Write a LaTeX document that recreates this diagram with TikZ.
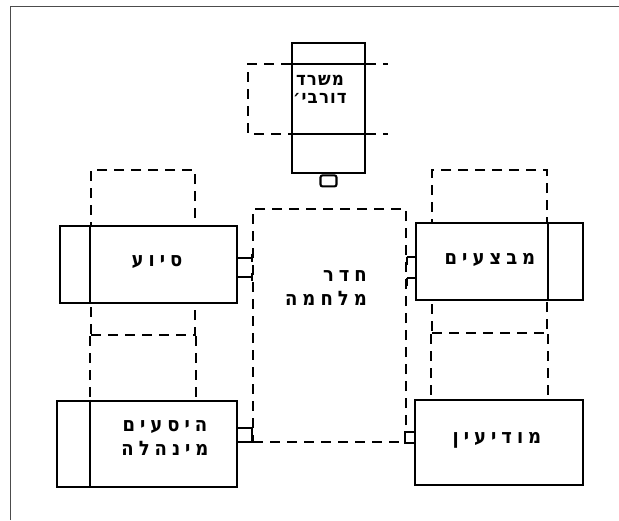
\documentclass[tikz,border=0pt]{standalone}
\usepackage{fontspec}
\usetikzlibrary{calc,backgrounds}
\TeXXeTstate=1
\newfontfamily\hebfont[Script=Hebrew,LetterSpace=25,FakeStretch=0.9]{DejaVu Sans}
\newfontfamily\hebfonttight[Script=Hebrew,LetterSpace=6,FakeStretch=0.9]{DejaVu Sans}
\newcommand\rl[1]{\beginR #1\endR}
\begin{document}
\begin{tikzpicture}[x=1pt,y=-1pt,
  boxst/.style={draw, line width=2.7pt, fill=white, inner sep=0pt},
  dsh/.style={draw, line width=2.1pt, dash pattern=on 10pt off 7pt},
  lbl/.style={font=\hebfont\bfseries\fontsize{20}{24}\selectfont, align=center, inner sep=0pt},
  lbltight/.style={font=\hebfonttight\bfseries\fontsize{18.5}{18}\selectfont, align=center, inner sep=0pt},
  tabst/.style={line width=2.1pt},
  sqst/.style={draw, line width=2.1pt, inner sep=0pt, fill=white}]
\useasboundingbox (0,0) rectangle (619,520);
% page frame
\draw[line width=1pt, black!70] (10,520) -- (10,6) -- (619,6);

% solid boxes
\node[boxst, minimum width=73pt, minimum height=130pt] (office) at (328.5,108) {};
\node[boxst, minimum width=177pt, minimum height=77pt] (sup) at (148.5,264.5) {};
\node[boxst, minimum width=180pt, minimum height=86pt] (adm) at (147,444) {};
\node[boxst, minimum width=167pt, minimum height=77pt] (ops) at (499.5,261.5) {};
\node[boxst, minimum width=168pt, minimum height=85pt] (intel) at (499,442.5) {};

% dashed frames behind the boxes
\begin{pgfonlayer}{background}
  \node[dsh, minimum width=104pt, minimum height=165pt] (supfr) at (143,252.5) {};
  \node[dsh, minimum width=115pt, minimum height=163pt] (opsfr) at (489.5,251.5) {};
  \draw[dsh] (supfr.south west) -- (supfr.south west |- adm.north);
  \draw[dsh] (supfr.south east) -- (supfr.south east |- adm.north);
  \draw[dsh] (opsfr.south west) -- (opsfr.south west |- intel.north);
  \draw[dsh] (opsfr.south east) -- (opsfr.south east |- intel.north);
  % office dashed frame (open on the right)
  \coordinate (ofA) at (248,64);
  \coordinate (ofB) at (248,134);
  \coordinate (ofC) at (388,64);
  \coordinate (ofD) at (388,134);
  \draw[dsh] (ofA -| office.west) -- (ofA) -- (ofB) -- (ofB -| office.west);
  \draw[dsh] (ofC -| office.east) -- (ofC);
  \draw[dsh] (ofD -| office.east) -- (ofD);
\end{pgfonlayer}

% inner solid lines
\draw[line width=2.4pt] (ofA -| office.west) -- (ofA -| office.east);
\draw[line width=2.4pt] (ofB -| office.west) -- (ofB -| office.east);
\draw[line width=2.7pt] (supfr.south west |- sup.north) -- (supfr.south west |- sup.south);
\draw[line width=2.7pt] (supfr.south west |- adm.north) -- (supfr.south west |- adm.south);
\draw[line width=2.7pt] (opsfr.south east |- ops.north) -- (opsfr.south east |- ops.south);

% office tab
\node[draw, line width=2.1pt, rounded corners=2pt, minimum width=16pt, minimum height=11pt, inner sep=0pt, anchor=north] (oftab) at (office.south) {};

% war room
\node[dsh, minimum width=153pt, minimum height=233pt] (war) at (329.5,325.5) {};

% tabs support -> war room
\coordinate (s1) at ($(sup.east)+(0,-6.5)$);
\coordinate (s2) at ($(sup.east)+(0,12.5)$);
\draw[tabst] (s1) -- (s1 -| war.west) ++(0,-4) -- ++(0,8);
\draw[tabst] (s2) -- (s2 -| war.west) ++(0,-4) -- ++(0,8);
% tabs ops -> war room
\coordinate (o1) at ($(ops.west)+(0,-4.5)$);
\coordinate (o2) at ($(ops.west)+(0,16.5)$);
\draw[tabst] (o1) -- (o1 -| war.east) ++(0,0) -- ++(0,8);
\draw[tabst] (o2) -- (o2 -| war.east) ++(0,0) -- ++(0,8);

% small squares at the bottom corners of the war room
\node[sqst, minimum width=15pt, minimum height=14pt] (admsq) at (244.5,435) {};
\node[sqst, minimum width=10pt, minimum height=11pt] (intsq) at (410,437.5) {};

% labels
\node[lbltight] (t_office) at (320,89) {\rl{משרד}\\\rl{דורבי׳}};
\node[lbl] (t_sup) at (157,262) {\rl{סיוע}};
\node[lbl] (t_adm) at (165,438) {\rl{היסעים}\\\rl{מינהלה}};
\node[lbl] (t_ops) at (490,260) {\rl{מבצעים}};
\node[lbl] (t_intel) at (497,440) {\rl{מודיעין}};
\node[lbl, align=right, anchor=east] (t_war) at (367,288.5) {\rl{חדר}\\\rl{מלחמה}};
\end{tikzpicture}
\end{document}
